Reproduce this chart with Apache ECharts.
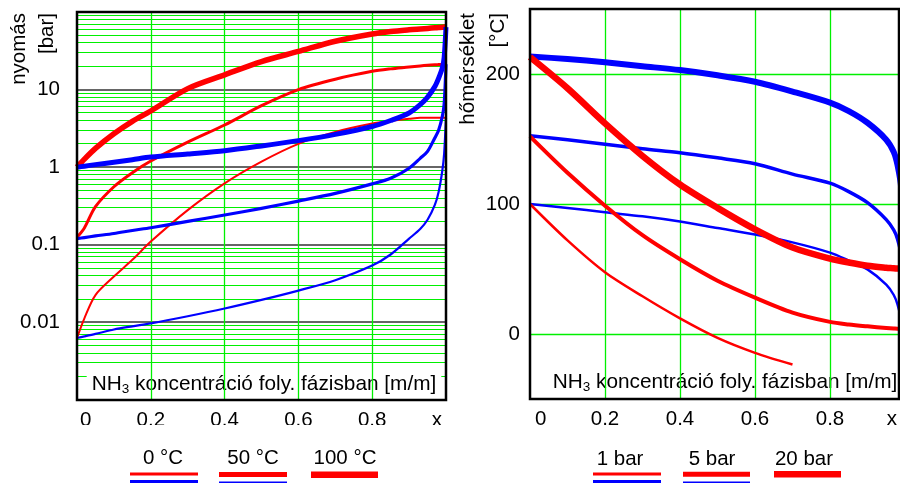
<!DOCTYPE html>
<html><head><meta charset="utf-8">
<script src="https://cdn.jsdelivr.net/npm/echarts@6/dist/echarts.min.js"></script>
<style>html,body{margin:0;padding:0;background:#fff}#c{width:900px;height:483px}</style>
</head><body><div id="c"></div>
<script>
// ---------- LEFT CHART DATA: pressure [bar] vs NH3 liquid concentration ----------
const xLeft = [0, 0.02, 0.05, 0.1, 0.15, 0.2, 0.3, 0.4, 0.5, 0.6, 0.7, 0.8, 0.85, 0.9, 0.93, 0.95, 0.97, 0.98, 0.99, 0.995, 1.0];
const pRed100 = [1.0, 1.27, 1.75, 2.7, 3.9, 5.3, 10.3, 15.5, 23, 31, 42, 52, 56, 59, 60.5, 61.5, 62.5, 63, 63.5, 64, 64];
const pRed50 = [0.125, 0.165, 0.31, 0.56, 0.85, 1.2, 2.1, 3.5, 6.2, 10, 13.6, 17.2, 18.5, 19.5, 20.2, 20.6, 20.9, 21, 21.1, 21.2, 21.2];
const pRed0 = [0.0063, 0.0113, 0.0225, 0.039, 0.064, 0.11, 0.28, 0.62, 1.18, 2.0, 2.85, 3.65, 3.95, 4.2, 4.35, 4.35, 4.35, 4.35, 4.35, 4.35, 4.35];
const pBlue100 = [1.0, 1.03, 1.08, 1.16, 1.25, 1.35, 1.48, 1.63, 1.88, 2.2, 2.65, 3.35, 4.0, 5.0, 6.4, 8.0, 11, 14, 19, 26, 64];
const pBlue50 = [0.12, 0.124, 0.13, 0.14, 0.153, 0.166, 0.2, 0.242, 0.295, 0.366, 0.46, 0.61, 0.72, 0.97, 1.3, 1.6, 2.4, 3.0, 4.5, 6.5, 21.2];
const pBlue0 = [0.0063, 0.0066, 0.0071, 0.0081, 0.0089, 0.0097, 0.012, 0.0151, 0.0195, 0.0257, 0.035, 0.054, 0.075, 0.12, 0.16, 0.21, 0.33, 0.48, 0.9, 1.5, 4.35];
const leftYTickValues = [0.01, 0.1, 1, 10];
const leftYTickLabels = ['0.01', '0.1', '1', '10'];
const leftLegend = ['0 °C', '50 °C', '100 °C'];

// ---------- RIGHT CHART DATA: temperature [°C] vs NH3 liquid concentration ----------
const xRight = [0, 0.1, 0.2, 0.3, 0.4, 0.5, 0.6, 0.7, 0.8, 0.85, 0.9, 0.95, 0.97, 0.98, 0.99, 1.0];
const tRed20 = [213, 189, 162, 137, 115, 97, 80.5, 66.5, 58, 55, 52.5, 51, 50.6, 50.3, 50.1, 50];
const tRed5 = [152, 124, 98.7, 76, 57.5, 41, 28, 16.5, 9.3, 7.3, 5.9, 4.7, 4.3, 4.1, 4.0, 3.9];
const tRed1 = [100, 72, 47.5, 29, 12, -3, -14.5, -23.5, null, null, null, null, null, null, null, null];
const tBlue20 = [213.5, 211.5, 209, 206, 203, 199, 194, 186.5, 178, 171.5, 162.5, 149.5, 140, 130, 112, 50];
const tBlue5 = [152.5, 149.5, 146, 142.5, 139.5, 135.5, 131, 123, 116, 109.5, 101, 88, 80, 73, 60, 3.9];
const tBlue1 = [100, 97, 93.6, 90.5, 86.5, 81.5, 76.5, 70.5, 62.6, 56.5, 49.7, 38, 30, 22.7, 10, -33];
const rightYTickValues = [0, 100, 200];
const rightYTickLabels = ['0', '100', '200'];
const rightLegend = ['1 bar', '5 bar', '20 bar'];
const rightXVisibleMax = 0.984;   // the right plot is cut by the picture edge here

// shared x ticks
const xTickValues = [0, 0.2, 0.4, 0.6, 0.8];
const xTickLabels = ['0', '0.2', '0.4', '0.6', '0.8'];
const xEndLabel = 'x';
const xTitleRich = '{a|NH}{s|3}{a| koncentráció foly. fázisban [m/m]}';

// ---------- styling ----------
const FONT = '"Liberation Sans", Arial, Helvetica, sans-serif';
const FS = 20.5;
const GREEN = '#00f000';
const RED = '#ff0000';
const BLUE = '#0000ff';

function pairs(xs, ys) { return xs.map((x, i) => [x, ys[i]]); }
function curve(xs, ys, color, width, idx, z) {
  return {
    type: 'line', xAxisIndex: idx, yAxisIndex: idx, data: pairs(xs, ys),
    showSymbol: false, symbol: 'none', smooth: 0.3, clip: true,
    lineStyle: { color: color, width: width, join: 'round', cap: 'butt' }, z: z, silent: true, animation: false
  };
}
function findLabel(vals, labels, v, log) {
  for (let i = 0; i < vals.length; i++) {
    const d = log ? Math.abs(Math.log10(vals[i]) - Math.log10(v)) : Math.abs(vals[i] - v);
    if (d < 1e-6) return labels[i];
  }
  return '';
}

// horizontal grid line values for the log axis (2..9 per decade)
const leftMinor = [];
for (let d = -3; d <= 1; d++) for (let m = 2; m <= 9; m++) leftMinor.push(m * Math.pow(10, d));

// crisp horizontal grid lines positioned through the axis scale
function hGrid(idx, values, color, width) {
  return {
    type: 'custom', xAxisIndex: idx, yAxisIndex: idx, z: 1, silent: true, animation: false, clip: false,
    data: values.map(v => [0, v]),
    encode: { x: 0, y: 1 },
    renderItem: function (params, api) {
      const cs = params.coordSys;
      const p = api.coord([0, api.value(1)]);
      const off = (Math.round(width) % 2) ? 0.5 : 0;
      const y = Math.round(p[1] - off) + off;
      return { type: 'line', shape: { x1: cs.x, y1: y, x2: cs.x + cs.width, y2: y },
        style: { stroke: color, lineWidth: width } };
    }
  };
}

function xAxisDef(gridIndex, maxVal, leftPad, rightPad) {
  return {
    type: 'value', gridIndex: gridIndex, min: 0, max: maxVal, interval: 0.2, z: 3,
    axisLine: { show: false }, axisTick: { show: false },
    splitLine: { show: true, showMinLine: false, showMaxLine: false, lineStyle: { color: GREEN, width: 1.3 } },
    axisLabel: {
      margin: 10, alignMinLabel: 'left', alignMaxLabel: 'right', showMaxLabel: true,
      formatter: function (v) {
        if (Math.abs(v - maxVal) < 1e-9) return '{e|' + xEndLabel + '}';
        const s = findLabel(xTickValues, xTickLabels, v, false);
        if (v === 0) return '{z|' + s + '}';
        return '{n|' + s + '}';
      },
      rich: {
        n: { fontSize: FS, fontFamily: FONT, color: '#000' },
        z: { fontSize: FS, fontFamily: FONT, color: '#000', padding: [0, 0, 0, leftPad] },
        e: { fontSize: FS, fontFamily: FONT, color: '#000', padding: [0, rightPad, 0, 0] }
      }
    }
  };
}

const graphics = [];
function vText(txt, x, y) {
  graphics.push({ type: 'text', x: x, y: y, rotation: Math.PI / 2, z: 30,
    style: { text: txt, fontSize: FS, fontFamily: FONT, fill: '#000', align: 'right', verticalAlign: 'middle' } });
}
vText('nyomás', 19, 13);
vText('[bar]', 47, 13);
vText('hőmérséklet', 468, 13);
vText('[°C]', 498, 13);

function xTitle(cx, cy) {
  graphics.push({ type: 'text', x: cx, y: cy, z: 2,
    style: {
      text: xTitleRich, align: 'center', verticalAlign: 'middle',
      backgroundColor: '#fff', padding: [5, 5, 4, 5],
      rich: {
        a: { fontSize: 20.8, fontFamily: FONT, fill: '#000', lineHeight: 23 },
        s: { fontSize: 13.5, fontFamily: FONT, fill: '#000', lineHeight: 14, verticalAlign: 'bottom' }
      }
    } });
}
xTitle(264, 384);
xTitle(725, 382);

// white band that trims the bottom of the tick labels as in the reference
graphics.push({ type: 'rect', z: 40, shape: { x: 0, y: 425, width: 900, height: 22 }, style: { fill: '#fff' } });

function legendItem(label, cx, ty, x1, x2, redY, redW, blueY, blueW) {
  graphics.push({ type: 'text', x: cx, y: ty, z: 50,
    style: { text: label, fontSize: FS, fontFamily: FONT, fill: '#000', align: 'center', verticalAlign: 'middle' } });
  graphics.push({ type: 'line', z: 50, shape: { x1: x1, y1: redY, x2: x2, y2: redY }, style: { stroke: RED, lineWidth: redW } });
  if (blueW) graphics.push({ type: 'line', z: 50, shape: { x1: x1, y1: blueY, x2: x2, y2: blueY }, style: { stroke: BLUE, lineWidth: blueW } });
}
legendItem(leftLegend[0], 163, 458, 130, 198, 474, 3, 482.5, 5);
legendItem(leftLegend[1], 253, 458, 219, 287, 474.5, 5, 483, 3);
legendItem(leftLegend[2], 345, 458, 311, 378, 474.7, 6.5, 0, 0);
legendItem(rightLegend[0], 620, 459, 593, 661, 474, 3, 482.5, 5);
legendItem(rightLegend[1], 712, 459, 683, 750, 474.3, 5, 483, 3);
legendItem(rightLegend[2], 804, 459, 774, 841, 474.2, 6.5, 0, 0);

const option = {
  animation: false,
  backgroundColor: '#fff',
  textStyle: { fontFamily: FONT },
  grid: [
    { left: 77, width: 369, top: 12, height: 388, show: true, z: 10, backgroundColor: 'transparent', borderColor: '#000', borderWidth: 2.5 },
    { left: 530, width: 373, top: 9, height: 390, show: true, z: 10, backgroundColor: 'transparent', borderColor: '#000', borderWidth: 2.5 }
  ],
  xAxis: [xAxisDef(0, 1, 3, 4), xAxisDef(1, rightXVisibleMax, 5, 2)],
  yAxis: [
    {
      type: 'log', logBase: 10, gridIndex: 0, min: 0.001, max: 100,
      axisLine: { show: false }, axisTick: { show: false }, splitLine: { show: false },
      axisLabel: { margin: 17, fontSize: FS, fontFamily: FONT, color: '#000',
        formatter: function (v) { return findLabel(leftYTickValues, leftYTickLabels, v, true); } }
    },
    {
      type: 'value', gridIndex: 1, min: -50, max: 250, interval: 50,
      axisLine: { show: false }, axisTick: { show: false }, splitLine: { show: false },
      axisLabel: { margin: 10, fontSize: FS, fontFamily: FONT, color: '#000',
        formatter: function (v) { return findLabel(rightYTickValues, rightYTickLabels, v, false); } }
    }
  ],
  graphic: graphics,
  series: [
    hGrid(0, leftMinor, GREEN, 1),
    hGrid(0, leftYTickValues, '#666666', 2),
    hGrid(1, rightYTickValues, GREEN, 1.3),
    // left chart curves
    curve(xLeft, pRed100, RED, 5.5, 0, 5),
    curve(xLeft, pRed50, RED, 3, 0, 5),
    curve(xLeft, pRed0, RED, 2, 0, 5),
    curve(xLeft, pBlue100, BLUE, 5, 0, 6),
    curve(xLeft, pBlue50, BLUE, 3.2, 0, 6),
    curve(xLeft, pBlue0, BLUE, 2.2, 0, 6),
    // right chart curves
    curve(xRight, tBlue20, BLUE, 6, 1, 5),
    curve(xRight, tBlue5, BLUE, 3.5, 1, 5),
    curve(xRight, tBlue1, BLUE, 2.5, 1, 5),
    curve(xRight, tRed20, RED, 6.5, 1, 6),
    curve(xRight, tRed5, RED, 4, 1, 6),
    curve(xRight, tRed1, RED, 2.5, 1, 6)
  ]
};

const chart = echarts.init(document.getElementById('c'), null, { renderer: 'canvas', width: 900, height: 483 });
chart.setOption(option);
</script></body></html>
